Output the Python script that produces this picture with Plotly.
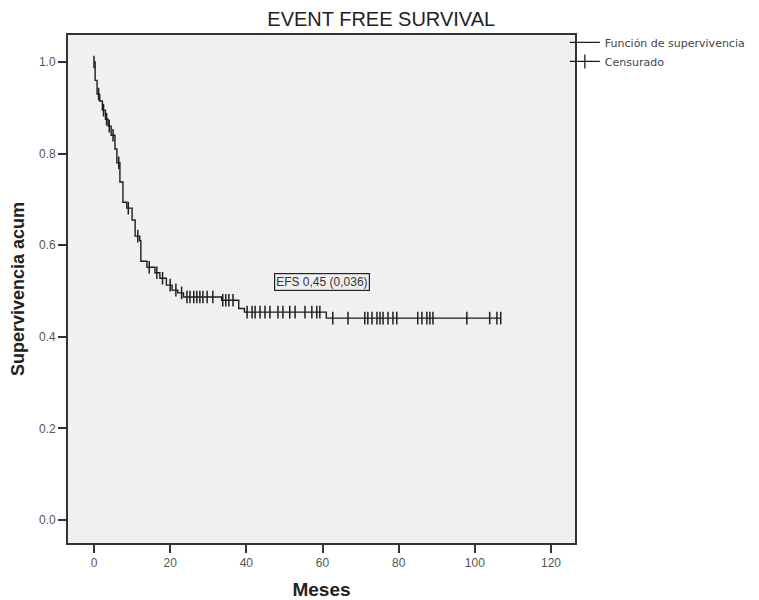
import numpy as np
import plotly.graph_objects as go

# Kaplan-Meier step function (event times in months, survival after each step)
event_times = [0, 0.3, 0.8, 1.5, 2.2, 3.0, 3.7, 4.5, 5.5, 6.0, 6.8, 7.6, 8.6, 10.0,
               10.8, 12.0, 12.3, 13.9, 16.0, 17.3, 19.0, 20.5, 22.0, 23.5, 33.5,
               38.0, 39.5, 61.0]
survival = [1.0, 0.96, 0.93, 0.915, 0.895, 0.875, 0.86, 0.84, 0.81, 0.78, 0.738,
            0.694, 0.681, 0.655, 0.62, 0.61, 0.565, 0.552, 0.54, 0.528, 0.513,
            0.502, 0.496, 0.487, 0.48, 0.462, 0.454, 0.441]

# Censored observations (months)
censor_times = [0, 1.2, 2.5, 3.3, 4.0, 5.0, 6.5, 9.0, 11.5, 14.5, 16.5, 18.0,
                20.0, 21.5, 23.0, 24.4, 25.2, 26.2, 27.0, 27.8, 28.6, 29.7,
                31.2, 33.8, 34.6, 35.4, 36.5, 40.2, 41.5, 42.3, 43.6, 44.9,
                46.2, 48.3, 49.6, 51.4, 52.8, 55.4, 57.2, 58.5, 59.3, 62.7,
                66.7, 71.1, 71.9, 73.0, 74.3, 75.1, 75.9, 77.2, 78.5, 79.5,
                85.0, 86.1, 87.4, 88.2, 89.0, 97.9, 103.9, 105.8, 106.8]

x_ticks = [0, 20, 40, 60, 80, 100, 120]
y_ticks = [0.0, 0.2, 0.4, 0.6, 0.8, 1.0]

title_text = "EVENT FREE SURVIVAL"
annot_text = "EFS 0,45 (0,036)"

et = np.array(event_times)
sv = np.array(survival)
end_t = max(censor_times)
line_x = list(et) + [end_t]
line_y = list(sv) + [sv[-1]]
idx = np.searchsorted(et, np.array(censor_times), side="right") - 1
censor_y = sv[idx]

FONT = "Arial, Liberation Sans, sans-serif"
LEGFONT = "DejaVu Sans, Verdana, sans-serif"
INK = "#1e1e1e"

fig = go.Figure()
fig.add_trace(go.Scatter(
    x=line_x, y=line_y, mode="lines", line_shape="hv",
    line=dict(color=INK, width=1.4),
    name="Función de supervivencia"))
fig.add_trace(go.Scatter(
    x=censor_times, y=censor_y, mode="markers", showlegend=False,
    marker=dict(symbol="line-ns", size=9, line=dict(color=INK, width=1.5)),
    name="Censurado"))
# legend entry for censored marks (line with tick, as in the reference key)
fig.add_trace(go.Scatter(
    x=[None], y=[None], mode="lines+markers",
    line=dict(color=INK, width=1.2),
    marker=dict(symbol="line-ns", size=10, line=dict(color=INK, width=1.3)),
    name="Censurado"))

fig.add_annotation(x=59.8, y=0.52, xref="x", yref="y", text=annot_text,
                   showarrow=False, font=dict(family=FONT, size=12, color="#333"),
                   bordercolor="#222", borderwidth=1.2, borderpad=1,
                   bgcolor="#f0f0f0")

fig.update_layout(
    width=751, height=592,
    paper_bgcolor="white", plot_bgcolor="#f0f0f0",
    margin=dict(l=60, r=184, t=27, b=57, autoexpand=False),
    title=dict(text=title_text, x=0.497, xref="container", xanchor="center",
               y=1 - 11 / 592, yref="container", yanchor="middle",
               font=dict(family=FONT, size=20, color="#222")),
    font=dict(family=FONT),
    showlegend=True,
    legend=dict(x=0.98, y=1.014, xanchor="left", yanchor="top",
                font=dict(family=LEGFONT, size=11, color="#444"),
                bgcolor="rgba(0,0,0,0)", tracegroupgap=0,
                itemwidth=30),
)
fig.update_xaxes(range=[-6.83, 126.3], tickvals=x_ticks, ticktext=[str(v) for v in x_ticks],
                 automargin=False,
                 showgrid=False, zeroline=False, showline=True, mirror=True,
                 linecolor="#333", linewidth=1.6, ticks="outside", ticklen=8,
                 tickcolor="#333", tickwidth=1.6,
                 tickfont=dict(family=FONT, size=12, color="#555"),
                 title=dict(text="<b>Meses</b>", font=dict(family=FONT, size=19, color="#222"),
                            standoff=18))
fig.update_yaxes(range=[-0.050, 1.059], tickvals=y_ticks,
                 ticktext=[f"{v:.1f}" for v in y_ticks],
                 automargin=False,
                 showgrid=False, zeroline=False, showline=True, mirror=True,
                 linecolor="#333", linewidth=1.6, ticks="outside", ticklen=8,
                 tickcolor="#333", tickwidth=1.6,
                 tickfont=dict(family=FONT, size=12, color="#555"),
                 title=dict(text="<b>Supervivencia acum</b>",
                            font=dict(family=FONT, size=18, color="#222"),
                            standoff=10))

fig.write_html("out.html")
